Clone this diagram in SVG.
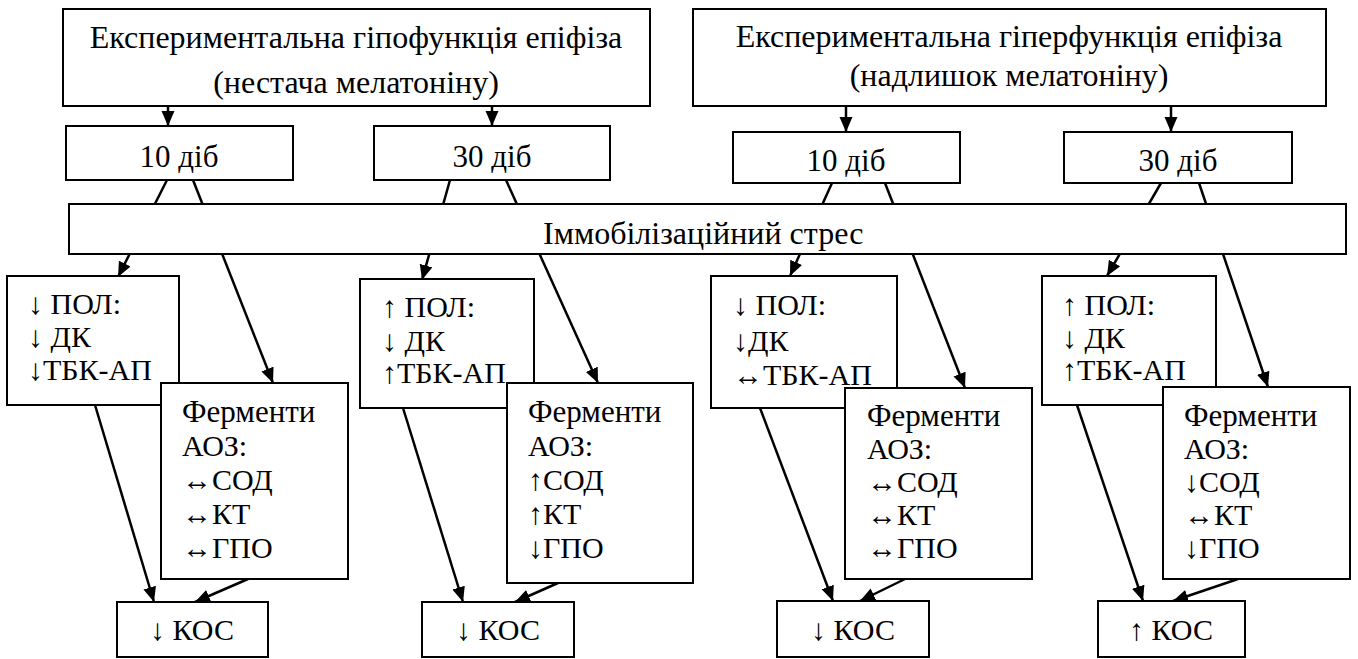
<svg xmlns="http://www.w3.org/2000/svg" width="1358" height="659" viewBox="0 0 1358 659">
<style>
.box{fill:#fff;stroke:#000;stroke-width:2}
.c{text-anchor:middle}
.big{font-size:32px}
.mid{font-size:31px}
.con{stroke:#000;stroke-width:2.5;fill:none;marker-end:url(#ah)}
</style>
<defs>
<marker id="ah" markerUnits="userSpaceOnUse" markerWidth="16" markerHeight="14" refX="15" refY="6.5" orient="auto">
<path d="M0,0 L15,6.5 L0,13 z" fill="#000"/>
</marker>
<clipPath id="clipStress"><rect x="70" y="205" width="1275" height="47"/></clipPath>
</defs>
<rect width="1358" height="659" fill="#fff"/>
<g id="connectors">
<line class="con" x1="168" y1="106" x2="168" y2="126"/>
<line class="con" x1="492" y1="106" x2="492" y2="126"/>
<line class="con" x1="846" y1="106" x2="846" y2="132"/>
<line class="con" x1="1171" y1="106" x2="1171" y2="132"/>
<line class="con" x1="167" y1="180" x2="118" y2="277"/>
<line class="con" x1="193" y1="180" x2="273" y2="383"/>
<line class="con" x1="450" y1="180" x2="422" y2="280"/>
<line class="con" x1="506" y1="180" x2="598" y2="383"/>
<line class="con" x1="832" y1="183" x2="790" y2="276"/>
<line class="con" x1="885" y1="183" x2="965" y2="388"/>
<line class="con" x1="1161" y1="183" x2="1107" y2="276"/>
<line class="con" x1="1199" y1="183" x2="1268" y2="387"/>
<line class="con" x1="95" y1="405" x2="154" y2="602"/>
<line class="con" x1="248" y1="579" x2="195" y2="602"/>
<line class="con" x1="403" y1="408" x2="463" y2="602"/>
<line class="con" x1="558" y1="583" x2="515" y2="602"/>
<line class="con" x1="760" y1="408" x2="833" y2="601"/>
<line class="con" x1="905" y1="579" x2="860" y2="601"/>
<line class="con" x1="1077" y1="405" x2="1143" y2="601"/>
<line class="con" x1="1238" y1="579" x2="1173" y2="601"/>
</g>
<g font-family="Liberation Serif, Times New Roman, serif" font-size="30" fill="#000">
<g id="hypo">
<rect class="box" x="63" y="9" width="587" height="97"/>
<text class="big c" x="356" y="48">Експериментальна гіпофункція епіфіза</text>
<text class="big c" x="356" y="93">(нестача мелатоніну)</text>
</g>
<g id="hyper">
<rect class="box" x="693" y="9" width="633" height="97"/>
<text class="big c" x="1009" y="47">Експериментальна гіперфункція епіфіза</text>
<text class="big c" x="1009" y="86">(надлишок мелатоніну)</text>
</g>
<g id="d10a">
<rect class="box" x="66" y="126" width="227" height="54"/>
<text class="mid c" x="179" y="167">10 діб</text>
</g>
<g id="d30a">
<rect class="box" x="374" y="126" width="236" height="54"/>
<text class="mid c" x="492" y="167">30 діб</text>
</g>
<g id="d10b">
<rect class="box" x="733" y="132" width="227" height="51"/>
<text class="mid c" x="846" y="171">10 діб</text>
</g>
<g id="d30b">
<rect class="box" x="1064" y="132" width="228" height="51"/>
<text class="mid c" x="1178" y="171">30 діб</text>
</g>
<g id="stress">
<rect class="box" x="69" y="204" width="1277" height="50"/>
<text class="big" x="543" y="244" clip-path="url(#clipStress)">Іммобілізаційний стрес</text>
</g>
<g id="pol1">
<rect class="box" x="7" y="276" width="172" height="129"/>
<text x="28" y="314">↓ ПОЛ:</text>
<text x="28" y="347">↓ ДК</text>
<text x="28" y="380">↓ТБК-АП</text>
</g>
<g id="aoz1">
<rect class="box" x="161" y="383" width="187" height="196"/>
<text class="mid" x="182" y="422">Ферменти</text>
<text x="182" y="456">АОЗ:</text>
<text x="182" y="490">↔СОД</text>
<text x="182" y="524">↔КТ</text>
<text x="182" y="558">↔ГПО</text>
</g>
<g id="kos1">
<rect class="box" x="117" y="602" width="151" height="55"/>
<text class="c" x="192" y="640">↓ КОС</text>
</g>
<g id="pol2">
<rect class="box" x="360" y="279" width="174" height="129"/>
<text x="382" y="317">↑ ПОЛ:</text>
<text x="382" y="351">↓ ДК</text>
<text x="382" y="383">↑ТБК-АП</text>
</g>
<g id="aoz2">
<rect class="box" x="507" y="383" width="186" height="200"/>
<text class="mid" x="528" y="422">Ферменти</text>
<text x="528" y="456">АОЗ:</text>
<text x="528" y="490">↑СОД</text>
<text x="528" y="524">↑КТ</text>
<text x="528" y="558">↓ГПО</text>
</g>
<g id="kos2">
<rect class="box" x="422" y="602" width="152" height="55"/>
<text class="c" x="498" y="640">↓ КОС</text>
</g>
<g id="pol3">
<rect class="box" x="711" y="276" width="186" height="132"/>
<text x="733" y="315">↓ ПОЛ:</text>
<text x="733" y="351">↓ДК</text>
<text x="733" y="385">↔ТБК-АП</text>
</g>
<g id="aoz3">
<rect class="box" x="845" y="388" width="187" height="191"/>
<text class="mid" x="867" y="426">Ферменти</text>
<text x="867" y="459">АОЗ:</text>
<text x="867" y="492">↔СОД</text>
<text x="867" y="525">↔КТ</text>
<text x="867" y="558">↔ГПО</text>
</g>
<g id="kos3">
<rect class="box" x="777" y="601" width="152" height="56"/>
<text class="c" x="853" y="640">↓ КОС</text>
</g>
<g id="pol4">
<rect class="box" x="1042" y="276" width="174" height="129"/>
<text x="1062" y="315">↑ ПОЛ:</text>
<text x="1062" y="348">↓ ДК</text>
<text x="1062" y="380">↑ТБК-АП</text>
</g>
<g id="aoz4">
<rect class="box" x="1163" y="387" width="187" height="192"/>
<text class="mid" x="1184" y="426">Ферменти</text>
<text x="1184" y="459">АОЗ:</text>
<text x="1184" y="492">↓СОД</text>
<text x="1184" y="525">↔КТ</text>
<text x="1184" y="558">↓ГПО</text>
</g>
<g id="kos4">
<rect class="box" x="1098" y="601" width="147" height="56"/>
<text class="c" x="1171" y="640">↑ КОС</text>
</g>
</g>
</svg>
